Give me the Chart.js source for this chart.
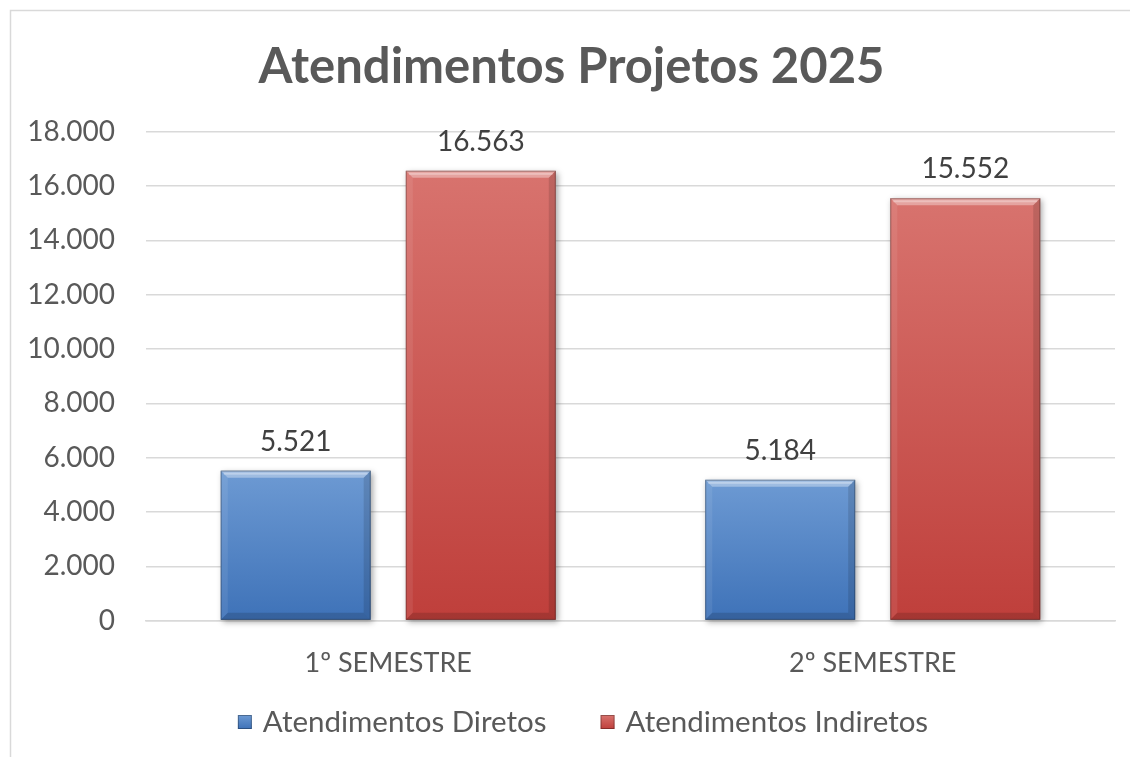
<!DOCTYPE html>
<html>
<head>
<meta charset="utf-8">
<script src="https://cdn.jsdelivr.net/npm/chart.js@4.4.1/dist/chart.umd.min.js"></script>
<style>
  html, body { margin: 0; padding: 0; background: #ffffff; }
  #wrap { position: relative; width: 1130px; height: 757px; }
</style>
</head>
<body>
<div id="wrap"><canvas id="c" width="1130" height="757"></canvas></div>
<script>
const categories = ['1º SEMESTRE', '2º SEMESTRE'];
const seriesNames = ['Atendimentos Diretos', 'Atendimentos Indiretos'];
const diretos = [5521, 5184];
const indiretos = [16563, 15552];
const yTicks = [0, 2000, 4000, 6000, 8000, 10000, 12000, 14000, 16000, 18000];
const titleText = 'Atendimentos Projetos 2025';

const FONT = 'Lato, "Open Sans", "Liberation Sans", sans-serif';
const fmt = v => v.toString().replace(/\B(?=(\d{3})+(?!\d))/g, '.');
const palette = [['#6d9ad3', '#3e72b8'], ['#d8736e', '#bf3f3b']];

function grad(ctx, top, bottom) {
  const chart = ctx.chart;
  const ca = chart.chartArea;
  const ys = chart.scales && chart.scales.y;
  if (!ca || !ys || ctx.raw === undefined) return bottom;
  const yTop = ys.getPixelForValue(ctx.raw);
  const yBase = ys.getPixelForValue(0);
  const g = chart.ctx.createLinearGradient(0, yTop, 0, yBase);
  g.addColorStop(0, top);
  g.addColorStop(1, bottom);
  return g;
}

const framePlugin = {
  id: 'frame',
  beforeDraw(chart) {
    const c = chart.ctx;
    c.save();
    c.strokeStyle = '#d9d9d9';
    c.lineWidth = 1.5;
    c.strokeRect(10.5, 10.5, 1200, 800);
    c.restore();
  }
};

const shadowPlugin = {
  id: 'shadow',
  beforeDatasetsDraw(chart) {
    const c = chart.ctx;
    c.save();
    chart.data.datasets.forEach((ds, di) => {
      chart.getDatasetMeta(di).data.forEach(bar => {
        const p = bar.getProps(['x', 'y', 'base', 'width'], true);
        c.shadowColor = 'rgba(0,0,0,0.35)';
        c.shadowBlur = 6;
        c.shadowOffsetX = 2;
        c.shadowOffsetY = 2;
        c.fillStyle = '#888';
        c.fillRect(p.x - p.width / 2, p.y, p.width, p.base - p.y);
      });
    });
    c.restore();
  }
};

const bevelPlugin = {
  id: 'bevel',
  afterDatasetsDraw(chart) {
    const c = chart.ctx;
    chart.data.datasets.forEach((ds, di) => {
      const meta = chart.getDatasetMeta(di);
      meta.data.forEach((bar, i) => {
        const p = bar.getProps(['x', 'y', 'base', 'width'], true);
        const l = p.x - p.width / 2, r = p.x + p.width / 2, t = p.y, b = p.base;
        const s = 7;
        c.save();
        c.beginPath(); c.moveTo(l, t); c.lineTo(r, t); c.lineTo(r - s, t + s); c.lineTo(l + s, t + s); c.closePath();
        c.fillStyle = 'rgba(255,255,255,0.35)'; c.fill();
        c.fillStyle = 'rgba(255,255,255,0.3)';
        c.fillRect(l + 3, t + 2, p.width - 6, 2);
        c.beginPath(); c.moveTo(l, t); c.lineTo(l + s, t + s); c.lineTo(l + s, b - s); c.lineTo(l, b); c.closePath();
        c.fillStyle = 'rgba(255,255,255,0.08)'; c.fill();
        c.beginPath(); c.moveTo(r, t); c.lineTo(r - s, t + s); c.lineTo(r - s, b - s); c.lineTo(r, b); c.closePath();
        c.fillStyle = 'rgba(0,0,0,0.12)'; c.fill();
        c.beginPath(); c.moveTo(l, b); c.lineTo(l + s, b - s); c.lineTo(r - s, b - s); c.lineTo(r, b); c.closePath();
        c.fillStyle = 'rgba(0,0,0,0.14)'; c.fill();
        c.strokeStyle = 'rgba(0,0,0,0.25)'; c.lineWidth = 1;
        c.strokeRect(l + 0.5, t + 0.5, p.width - 1, b - t - 1);
        c.fillStyle = '#404040';
        c.font = '28px ' + FONT;
        c.textAlign = 'center';
        c.textBaseline = 'middle';
        c.fillText(fmt(ds.data[i]), p.x, t - 29);
        c.restore();
      });
    });
  }
};

const legendPlugin = {
  id: 'customLegend',
  afterDraw(chart) {
    const c = chart.ctx;
    const box = 14, gapBox = 11, gapItem = 54;
    const cy = 722;
    c.save();
    c.font = '29.5px ' + FONT;
    const items = chart.data.datasets.map((ds, i) => ({ text: ds.label, w: c.measureText(ds.label).width, col: palette[i] }));
    const total = items.reduce((a, it) => a + box + gapBox + it.w, 0) + gapItem * (items.length - 1);
    let x = 583 - total / 2;
    items.forEach(it => {
      const g = c.createLinearGradient(0, cy - box / 2, 0, cy + box / 2);
      g.addColorStop(0, it.col[0]);
      g.addColorStop(1, it.col[1]);
      c.fillStyle = g;
      c.fillRect(x, cy - box / 2, box, box);
      c.strokeStyle = 'rgba(0,0,0,0.3)';
      c.lineWidth = 1;
      c.strokeRect(x + 0.5, cy - box / 2 + 0.5, box - 1, box - 1);
      c.fillStyle = '#595959';
      c.textAlign = 'left';
      c.textBaseline = 'middle';
      c.fillText(it.text, x + box + gapBox, cy);
      x += box + gapBox + it.w + gapItem;
    });
    c.restore();
  }
};

new Chart(document.getElementById('c'), {
  type: 'bar',
  data: {
    labels: categories,
    datasets: [
      {
        label: seriesNames[0],
        data: diretos,
        backgroundColor: ctx => grad(ctx, palette[0][0], palette[0][1]),
        borderWidth: 0,
        categoryPercentage: 0.764,
        barPercentage: 0.81
      },
      {
        label: seriesNames[1],
        data: indiretos,
        backgroundColor: ctx => grad(ctx, palette[1][0], palette[1][1]),
        borderWidth: 0,
        categoryPercentage: 0.764,
        barPercentage: 0.81
      }
    ]
  },
  options: {
    responsive: false,
    animation: false,
    layout: { padding: { left: 28, right: 15, top: 0, bottom: 52 } },
    plugins: {
      title: {
        display: true,
        text: titleText,
        color: '#595959',
        font: { family: FONT, size: 49, weight: 'bold' },
        padding: { top: 38, bottom: 35 }
      },
      legend: { display: false },
      tooltip: { enabled: false }
    },
    scales: {
      x: {
        grid: { display: false, drawTicks: false },
        border: { color: '#d9d9d9', width: 1.5 },
        ticks: { color: '#595959', font: { family: FONT, size: 27 }, padding: 26 }
      },
      y: {
        min: 0,
        max: 18000,
        afterBuildTicks: axis => { axis.ticks = yTicks.map(v => ({ value: v })); },
        afterFit: axis => { axis.width = 118; },
        grid: { color: '#d9d9d9', lineWidth: 1.5, drawTicks: false },
        border: { display: false },
        ticks: {
          color: '#595959',
          font: { family: FONT, size: 28 },
          padding: 31,
          callback: v => fmt(v)
        }
      }
    }
  },
  plugins: [framePlugin, shadowPlugin, bevelPlugin, legendPlugin]
});
</script>
</body>
</html>
